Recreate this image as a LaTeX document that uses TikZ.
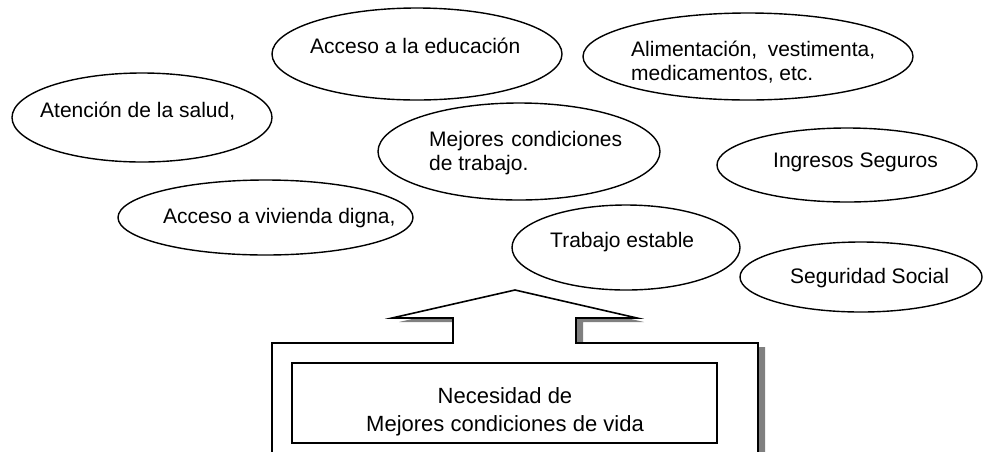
\documentclass[tikz,border=0pt]{standalone}
\usepackage{fontspec}
\setmainfont{Liberation Sans}
\usetikzlibrary{shapes.geometric}
\definecolor{shadowgray}{HTML}{808080}
\tikzset{
  bubble/.style={draw, ellipse, line width=1.4pt, inner sep=0pt},
  btext/.style={anchor=base west, inner sep=0pt, align=left, font=\fontsize{21}{24}\selectfont},
}
\newcommand{\arrowoutline}{(515,290) -- (637,318) -- (576,318) -- (576,343) -- (758,343) -- (758,480)
  -- (272,480) -- (272,343) -- (453,343) -- (453,318) -- (392,318) -- cycle}

\begin{document}
\begin{tikzpicture}[x=1pt,y=-1pt]
\useasboundingbox (0,0) rectangle (992,451);
\clip (0,0) rectangle (992,451);
% ellipses
\node[bubble, minimum width=290pt, minimum height=92pt] (edu) at (417,54) {};
\node[bubble, minimum width=330pt, minimum height=87pt] (alim) at (748,56.5) {};
\node[bubble, minimum width=260pt, minimum height=89pt] (salud) at (142,117.5) {};
\node[bubble, minimum width=282pt, minimum height=97pt] (cond) at (519,151.5) {};
\node[bubble, minimum width=260pt, minimum height=74pt] (ingr) at (847,165) {};
\node[bubble, minimum width=295pt, minimum height=75pt] (viv) at (265.5,217.5) {};
\node[bubble, minimum width=228pt, minimum height=85pt] (estab) at (626,247.5) {};
\node[bubble, minimum width=242pt, minimum height=70pt] (segs) at (861,277) {};
% texts (two-line ones sit on their last baseline)
\node[btext] (edut) at (310,53) {Acceso a la educación};
\node[btext] (alimt) at (631,80) {\makebox[244pt][s]{Alimentación,\hfill vestimenta,}\\medicamentos, etc.};
\node[btext] (saludt) at (40,117) {Atención de la salud,};
\node[btext] (condt) at (429,170) {\makebox[193pt][s]{Mejores\hfill condiciones}\\de trabajo.};
\node[btext] (ingrt) at (773,167) {Ingresos Seguros};
\node[btext] (vivt) at (163,223) {Acceso a vivienda digna,};
\node[btext] (estabt) at (550,247) {Trabajo estable};
\node[btext] (segst) at (790,283) {Seguridad Social};
% arrow box
\fill[shadowgray, shift={(7,4)}] \arrowoutline;
\draw[fill=white, line width=1.6pt] \arrowoutline;
\node[draw, line width=1.2pt, minimum width=425pt, minimum height=80pt, inner sep=0pt] (need) at (504.5,403) {};
\node[anchor=base, inner sep=0pt, align=center, font=\fontsize{22}{28}\selectfont] (needt) at (505,431)
  {Necesidad de\\Mejores condiciones de vida};
\end{tikzpicture}
\end{document}
